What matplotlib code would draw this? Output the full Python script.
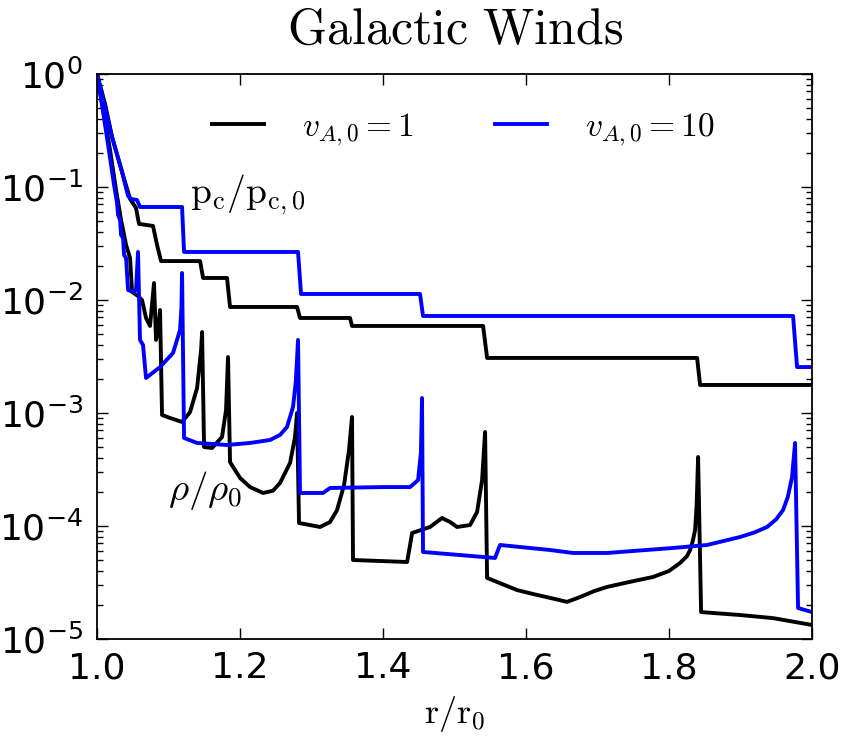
import numpy as np
import matplotlib
matplotlib.use("Agg")
import matplotlib.pyplot as plt

plt.rcParams['mathtext.fontset'] = 'cm'
plt.rcParams['font.family'] = ['DejaVu Sans']

# cosmic ray pressure, v_A0 = 1
r_pc1 = [1.0, 1.0112, 1.0210, 1.0350, 1.0462, 1.0545, 1.0587, 1.0783, 1.0839, 1.0895,
         1.1441, 1.1483, 1.1818, 1.1860, 1.2797, 1.2839, 1.3538, 1.3566, 1.5399, 1.5455,
         1.8392, 1.8434, 2.0]
pc1 = [1.0, 0.543, 0.277, 0.1357, 0.0783, 0.0652, 0.0471, 0.0452, 0.0307, 0.0221,
       0.0221, 0.01566, 0.01566, 0.00867, 0.00867, 0.00693, 0.00693, 0.00589, 0.00589, 0.00307,
       0.00307, 0.00177, 0.00177]

# cosmic ray pressure, v_A0 = 10
r_pc10 = [1.0, 1.0098, 1.0210, 1.0350, 1.0434, 1.0476, 1.0559, 1.0601, 1.1189, 1.1217,
          1.2811, 1.2853, 1.4517, 1.4559, 1.9734, 1.9790, 2.0]
pc10 = [1.0, 0.545, 0.277, 0.1357, 0.0832, 0.0783, 0.0767, 0.0665, 0.0665, 0.0266,
        0.0266, 0.0113, 0.0113, 0.00722, 0.00722, 0.00255, 0.00255]

# density, v_A0 = 1
r_rho1 = [1.0, 1.0098, 1.0182, 1.0266, 1.0336, 1.0406, 1.0462, 1.0490, 1.0573, 1.0629,
          1.0685, 1.0741, 1.0797, 1.0825, 1.0853, 1.0881, 1.0909, 1.1021, 1.1189, 1.1301,
          1.1399, 1.1455, 1.1469, 1.1497, 1.1608, 1.1748, 1.1804, 1.1832, 1.1860, 1.2000,
          1.2140, 1.2322, 1.2460, 1.2559, 1.2699, 1.2769, 1.2797, 1.2825, 1.3119, 1.3259,
          1.3357, 1.3455, 1.3524, 1.3566, 1.3580, 1.3958, 1.4336, 1.4378, 1.4406, 1.4657,
          1.4825, 1.4937, 1.5035, 1.5217, 1.5315, 1.5385, 1.5427, 1.5455, 1.5874, 1.6100,
          1.6336, 1.6573, 1.6755, 1.6950, 1.7133, 1.7450, 1.7776, 1.8000, 1.8154, 1.8250,
          1.8294, 1.8330, 1.8364, 1.8385, 1.8406, 1.8448, 1.8993, 1.9455, 2.0]
rho1 = [1.0, 0.4336, 0.2126, 0.0941, 0.0510, 0.0307, 0.0235, 0.01177, 0.01085, 0.0100,
        0.00693, 0.00589, 0.01414, 0.00443, 0.00543, 0.00816, 0.00096, 0.000903, 0.000833, 0.00102,
        0.00166, 0.00361, 0.00521, 0.0005, 0.00049, 0.000613, 0.00106, 0.00313, 0.000368, 0.000266,
        0.000221, 0.000196, 0.000205, 0.00024, 0.000361, 0.000613, 0.001, 0.0001063, 0.000098, 0.0001085,
        0.0001385, 0.000231, 0.000471, 0.000922, 0.00005, 0.000049, 0.000048, 0.0000679, 0.0000867, 0.000098,
        0.0001177, 0.0001085, 0.000098, 0.000102, 0.000133, 0.000255, 0.000679, 0.0000347, 0.0000271, 0.0000250,
        0.0000231, 0.0000213, 0.0000235, 0.0000265, 0.0000289, 0.0000320, 0.0000354, 0.0000400, 0.0000471, 0.0000540,
        0.0000613, 0.0000730, 0.0000922, 0.000150, 0.000408, 0.0000173, 0.0000163, 0.0000153, 0.0000133]

# density, v_A0 = 10
r_rho10 = [1.0, 1.0098, 1.0182, 1.0238, 1.0280, 1.0294, 1.0322, 1.0336, 1.0364, 1.0378,
           1.0406, 1.0434, 1.0503, 1.0545, 1.0573, 1.0601, 1.0643, 1.0685, 1.0881, 1.1063,
           1.1161, 1.1180, 1.1189, 1.1217, 1.1399, 1.1818, 1.2140, 1.2420, 1.2560, 1.2657,
           1.2741, 1.2780, 1.2811, 1.2839, 1.3161, 1.3259, 1.4000, 1.4378, 1.4490, 1.4530,
           1.4545, 1.4559, 1.5566, 1.5636, 1.6336, 1.6657, 1.7133, 1.8056, 1.8531, 1.8993,
           1.9200, 1.9371, 1.9500, 1.9594, 1.9660, 1.9720, 1.9762, 1.9804, 2.0]
rho10 = [1.0, 0.408, 0.1805, 0.1041, 0.0722, 0.0565, 0.0510, 0.0376, 0.0354, 0.0250,
         0.0235, 0.01226, 0.01177, 0.01226, 0.0266, 0.00443, 0.0040, 0.00204, 0.00255, 0.0034,
         0.00543, 0.0085, 0.01734, 0.000601, 0.000543, 0.000521, 0.000543, 0.000577, 0.00064, 0.000752,
         0.00113, 0.0019, 0.00443, 0.000196, 0.000196, 0.000217, 0.000221, 0.000221, 0.000255, 0.00045,
         0.001357, 0.0000589, 0.0000521, 0.0000679, 0.0000613, 0.0000577, 0.0000577, 0.0000639, 0.0000679, 0.0000799,
         0.000088, 0.000098, 0.000115, 0.0001385, 0.00018, 0.000271, 0.000543, 0.0000188, 0.0000173]

blue = '#0000ff'
lw = 2.8

fig = plt.figure(figsize=(8.46, 7.36), dpi=100)
ax = fig.add_axes([0.1147, 0.1318, 0.8452, 0.7677])

ax.plot(r_rho1, rho1, color='k', lw=lw)
ax.plot(r_pc1, pc1, color='k', lw=lw, label=r'$v_{A,0} = 1$')
ax.plot(r_rho10, rho10, color=blue, lw=lw)
ax.plot(r_pc10, pc10, color=blue, lw=lw, label=r'$v_{A,0} = 10$')

ax.set_yscale('log')
ax.set_xlim(1.0, 2.0)
ax.set_ylim(1e-5, 1.0)
ax.set_xticks([1.0, 1.2, 1.4, 1.6, 1.8, 2.0])

ax.tick_params(which='both', direction='in', top=True, right=True, labelsize=26)
ax.tick_params(axis='x', which='major', length=8, width=1, pad=9)
ax.tick_params(axis='y', which='major', length=8, width=1, pad=10)
ax.tick_params(which='minor', length=4, width=1)
ax.tick_params(axis='x', which='minor', bottom=False, top=False)
for sp in ax.spines.values():
    sp.set_linewidth(1.3)

ax.set_title(r'$\mathrm{Galactic\ Winds}$', fontsize=36, pad=22)
ax.set_xlabel(r'$\mathrm{r/r_0}$', fontsize=26, labelpad=6)

ax.text(0.130, 0.772, r'$\mathrm{p_c/p_{c,0}}$', transform=ax.transAxes, fontsize=27)
ax.text(0.099, 0.246, r'$\rho/\rho_0$', transform=ax.transAxes, fontsize=28)

ax.legend(loc='upper center', bbox_to_anchor=(0.512, 0.99), ncol=2, frameon=False,
          fontsize=24, handlelength=1.56, handletextpad=1.14, columnspacing=2.46)

fig.savefig('out.png', dpi=100)
